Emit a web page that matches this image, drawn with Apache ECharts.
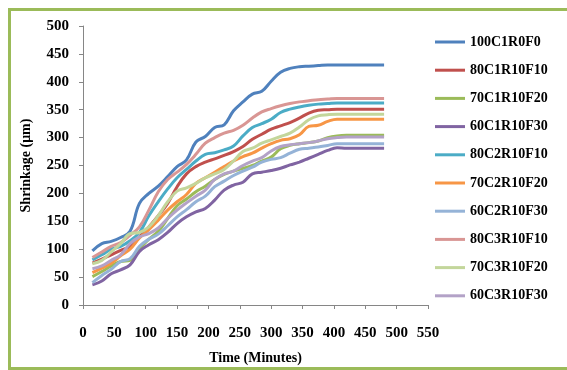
<!DOCTYPE html>
<html><head><meta charset="utf-8">
<script src="https://cdn.jsdelivr.net/npm/echarts@6/dist/echarts.min.js"></script>
<style>html,body{margin:0;padding:0;background:#fff}#c{width:567px;height:370px}</style>
</head><body><div id="c"></div>
<script>
const times = [15,30,45,60,75,90,105,120,135,150,165,180,195,210,225,240,255,270,285,300,315,330,345,360,375,390,405,420,435,450,465,480];
const names = ['100C1R0F0','80C1R10F10','70C1R10F20','60C1R10F30','80C2R10F10','70C2R10F20','60C2R10F30','80C3R10F10','70C3R10F20','60C3R10F30'];
const s100C1R0F0  = [97,110,114,121,132,182,200,213,230,248,260,292,302,318,323,348,364,378,383,401,417,424,427,428,429,430,430,430,430,430,430,430];
const s80C1R10F10 = [75,82,90,98,105,122,140,160,182,212,235,248,256,262,268,275,284,297,306,315,321,327,335,344,349,350,351,351,351,351,351,351];
const s70C1R10F20 = [51,60,70,78,80,100,118,132,155,178,190,203,213,225,234,240,245,250,258,265,280,286,289,291,294,300,303,304,304,304,304,304];
const s60C1R10F30 = [36,43,56,63,72,96,108,117,130,146,158,167,173,188,206,215,220,235,238,241,245,251,256,263,270,277,282,281,281,281,281,281];
const s80C2R10F10 = [81,90,100,105,115,130,160,185,208,228,243,258,270,273,278,285,303,318,325,333,345,351,355,358,360,361,362,362,362,362,362,362];
const s70C2R10F20 = [58,66,75,88,100,120,135,152,170,185,198,218,228,238,248,258,266,272,281,289,295,298,305,320,322,329,333,333,333,333,333,333];
const s60C2R10F30 = [40,53,64,78,83,105,118,127,142,158,171,185,195,212,222,232,240,247,256,261,264,272,279,281,283,286,289,289,289,289,289,289];
const s80C3R10F10 = [85,95,105,112,125,140,170,203,225,238,252,270,290,300,308,313,322,335,346,352,357,361,364,366,368,369,370,370,370,370,370,370];
const s70C3R10F20 = [74,80,95,110,128,130,140,160,185,204,210,218,228,235,243,258,275,281,290,296,302,308,319,332,339,341,342,342,342,342,342,342];
const s60C3R10F30 = [65,70,80,90,110,122,128,138,155,170,183,195,206,225,235,240,250,258,264,276,284,287,289,291,294,298,300,301,301,301,301,301];
const values = [s100C1R0F0,s80C1R10F10,s70C1R10F20,s60C1R10F30,s80C2R10F10,s70C2R10F20,s60C2R10F30,s80C3R10F10,s70C3R10F20,s60C3R10F30];
const colors = ['#4F81BD','#C0504D','#9BBB59','#8064A2','#4BACC6','#F79646','#95B3D7','#D99694','#C3D69B','#B3A2C7'];

const font = '"Liberation Serif","Times New Roman",serif';
const chart = echarts.init(document.getElementById('c'));
chart.setOption({
  animation:false,
  color:colors,
  graphic:[{type:'rect',shape:{x:9.5,y:9.5,width:600,height:359},style:{fill:'none',stroke:'#9BBB59',lineWidth:3},silent:true,z:-1}],
  grid:{left:83,right:139,top:26,bottom:64},
  legend:{orient:'vertical',left:435,top:35,padding:0,itemWidth:30,itemHeight:3,itemGap:14.2,icon:'rect',
    textStyle:{fontFamily:font,fontWeight:'bold',fontSize:14,color:'#000'},data:names},
  xAxis:{type:'value',min:0,max:550,interval:50,
    name:'Time (Minutes)',nameLocation:'middle',nameGap:46,
    nameTextStyle:{fontFamily:font,fontWeight:'bold',fontSize:14,color:'#000'},
    axisLine:{lineStyle:{color:'#868686'}},axisTick:{length:4,lineStyle:{color:'#868686'}},
    splitLine:{show:false},
    axisLabel:{margin:21,fontFamily:font,fontWeight:'bold',fontSize:15,color:'#000'}},
  yAxis:{type:'value',min:0,max:500,interval:50,
    name:'Shrinkage (μm)',nameLocation:'middle',nameGap:50,
    nameTextStyle:{fontFamily:font,fontWeight:'bold',fontSize:14,color:'#000'},
    axisLine:{show:true,lineStyle:{color:'#868686'}},axisTick:{show:true,length:4,lineStyle:{color:'#868686'}},
    splitLine:{show:false},
    axisLabel:{margin:14,fontFamily:font,fontWeight:'bold',fontSize:15,color:'#000'}},
  series:names.map((n,i)=>({name:n,type:'line',smooth:0.4,symbol:'none',
    lineStyle:{width:3,color:colors[i]},itemStyle:{color:colors[i]},
    data:times.map((t,j)=>[t,values[i][j]])}))
});
</script></body></html>
